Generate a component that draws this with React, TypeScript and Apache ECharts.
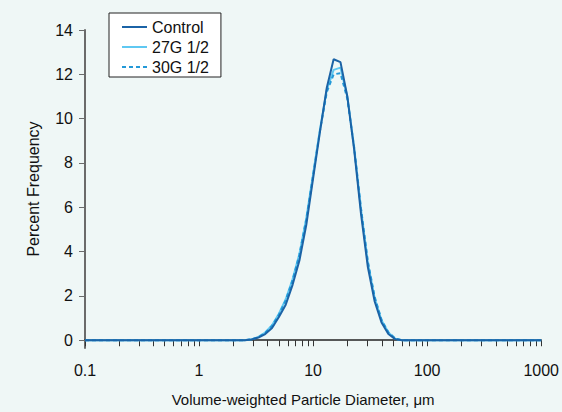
import React, { useEffect, useRef } from "react";
import * as echarts from "echarts";

// particle diameter (µm) bins
const diameters = [0.1, 2.512, 2.884, 3.311, 3.802, 4.365, 5.012, 5.754, 6.607, 7.586, 8.71, 10, 11.482, 13.183, 15.136, 17.378, 19.953, 22.909, 26.303, 30.2, 34.674, 39.811, 45.709, 52.481, 60.256, 1000];
const control = [0, 0, 0.03, 0.12, 0.28, 0.55, 1.05, 1.6, 2.5, 3.6, 5.2, 7.3, 9.4, 11.4, 12.68, 12.55, 11.0, 8.6, 5.7, 3.3, 1.75, 0.8, 0.28, 0.05, 0, 0];
const g27 = [0, 0, 0.04, 0.15, 0.35, 0.68, 1.2, 1.85, 2.75, 3.9, 5.5, 7.5, 9.5, 11.3, 12.2, 12.3, 11.0, 8.7, 5.9, 3.5, 1.9, 0.9, 0.35, 0.07, 0, 0];
const g30 = [0, 0, 0.04, 0.14, 0.33, 0.65, 1.15, 1.8, 2.7, 3.85, 5.45, 7.45, 9.45, 11.2, 12.0, 12.05, 10.9, 8.7, 5.95, 3.55, 1.95, 0.92, 0.36, 0.08, 0, 0];
const seriesNames = ["Control", "27G 1/2", "30G 1/2"];
const yTicks = [0, 2, 4, 6, 8, 10, 12, 14];
const xLabels = [0.1, 1, 10, 100, 1000];
const xTicks = [0.1, 0.2, 0.3, 0.4, 0.5, 0.6, 0.7, 0.8, 0.9, 1, 2, 3, 4, 5, 6, 7, 8, 9, 10, 20, 30, 40, 50, 60, 70, 80, 90, 100, 200, 300, 400, 500, 600, 700, 800, 900, 1000];

const FONT = "'Liberation Sans', Arial, sans-serif";

export default function App() {
  const ref = useRef<HTMLDivElement>(null);
  useEffect(() => {
    if (!ref.current) return;
    const chart = echarts.init(ref.current, null, { renderer: "svg" });
    const pairs = (vals: number[]) => diameters.map((d, i) => [d, vals[i]]);
    chart.setOption({
      animation: false,
      backgroundColor: "#eff7f6",
      textStyle: { fontFamily: FONT },
      grid: { left: 85, right: 16, top: 30, bottom: 57 },
      legend: {
        orient: "vertical",
        left: 109,
        top: 13,
        padding: [6, 12, 2, 12],
        itemGap: 4,
        itemWidth: 25,
        itemHeight: 14,
        backgroundColor: "#ffffff",
        borderColor: "#222222",
        borderWidth: 1,
        borderRadius: 0,
        itemStyle: { opacity: 0 },
        textStyle: { fontSize: 16, color: "#111", fontFamily: FONT },
        data: seriesNames,
      },
      xAxis: {
        type: "log",
        logBase: 10,
        min: 0.1,
        max: 1000,
        name: "Volume-weighted Particle Diameter, \u03bcm",
        nameLocation: "middle",
        nameGap: 44,
        nameTextStyle: { fontSize: 15, color: "#111", fontFamily: FONT, padding: [0, 20, 0, 0] },
        axisLine: { show: true, lineStyle: { color: "#222", width: 1.5 } },
        axisTick: { show: true, length: 6, lineStyle: { color: "#333" }, customValues: xTicks },
        axisLabel: {
          fontSize: 16,
          color: "#111",
          margin: 14,
          customValues: xLabels,
          formatter: (v: number) => String(Number(v.toPrecision(6))),
        },
        splitLine: { show: false },
        minorTick: { show: false },
      },
      yAxis: {
        type: "value",
        min: -0.35,
        max: 14,
        name: "Percent Frequency",
        nameLocation: "middle",
        nameGap: 44,
        nameTextStyle: { fontSize: 16, color: "#111", fontFamily: FONT },
        axisLine: { show: true, lineStyle: { color: "#6b6b6b", width: 2 } },
        axisTick: { show: true, length: 6, lineStyle: { color: "#6b6b6b" }, customValues: yTicks },
        axisLabel: { fontSize: 16, color: "#111", margin: 12, customValues: yTicks },
        splitLine: { show: false },
      },
      series: [
        {
          name: seriesNames[0],
          type: "line",
          symbol: "none",
          data: pairs(control),
          lineStyle: { color: "#1b63a6", width: 2 },
          itemStyle: { color: "#1b63a6" },
          z: 4,
        },
        {
          name: seriesNames[1],
          type: "line",
          symbol: "none",
          data: pairs(g27),
          lineStyle: { color: "#5fc8f2", width: 2 },
          itemStyle: { color: "#5fc8f2" },
          z: 2,
        },
        {
          name: seriesNames[2],
          type: "line",
          symbol: "none",
          data: pairs(g30),
          lineStyle: { color: "#2399d8", width: 2, type: [4, 3] },
          itemStyle: { color: "#2399d8" },
          z: 3,
        },
      ],
    });
    return () => chart.dispose();
  }, []);
  return (
    <div
      ref={ref}
      style={{ position: "fixed", left: 0, top: 0, width: 562, height: 412 }}
    />
  );
}
